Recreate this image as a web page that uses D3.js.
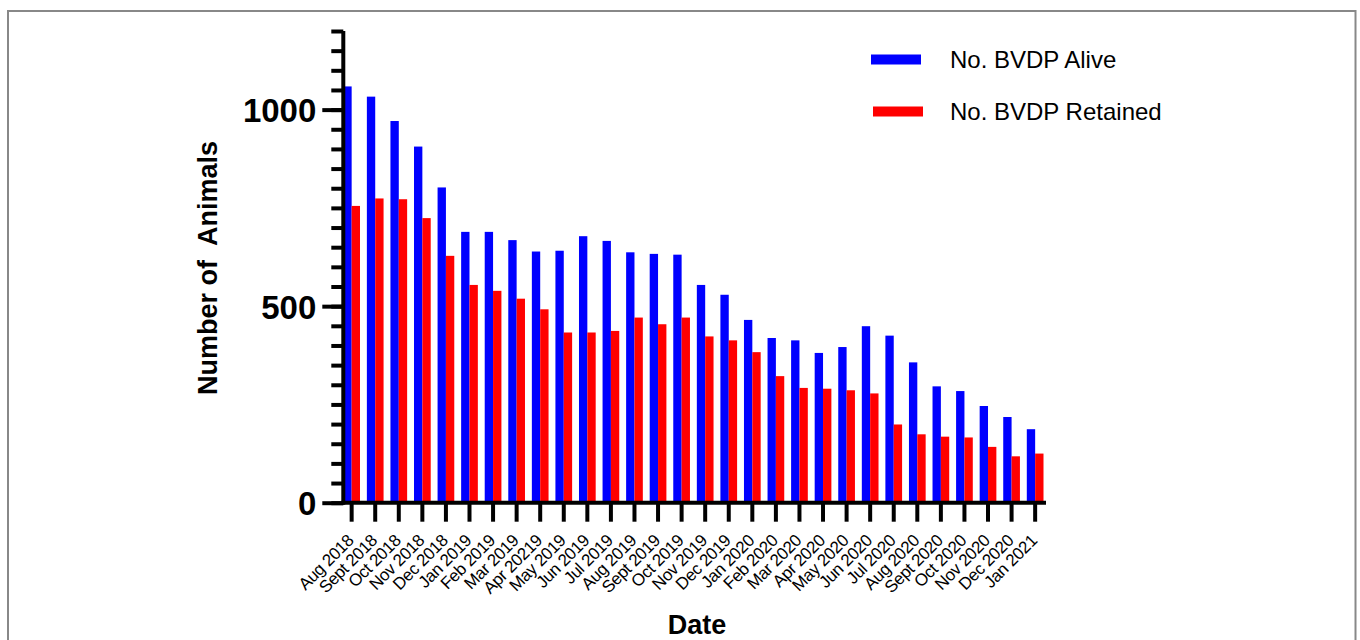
<!DOCTYPE html>
<html>
<head>
<meta charset="utf-8">
<script src="https://cdn.jsdelivr.net/npm/d3@7"></script>
<style>
  html, body { margin: 0; padding: 0; background: #fff; }
  svg { display: block; font-family: "Liberation Sans", Arial, sans-serif; }
</style>
</head>
<body>
<svg id="chart" width="1360" height="640"></svg>
<script>
const categories = ["Aug 2018","Sept 2018","Oct 2018","Nov 2018","Dec 2018","Jan 2019","Feb 2019","Mar 2019","Apr 20219","May 2019","Jun 2019","Jul 2019","Aug 2019","Sept 2019","Oct 2019","Nov 2019","Dec 2019","Jan 2020","Feb 2020","Mar 2020","Apr 2020","May 2020","Jun 2020","Jul 2020","Aug 2020","Sept 2020","Oct 2020","Nov 2020","Dec 2020","Jan 2021"];
const seriesNames = ["No. BVDP Alive", "No. BVDP Retained"];
const alive =    [1059,1033,971,906,802,689,689,668,639,641,678,666,637,633,631,554,529,465,419,413,381,396,449,425,357,296,284,246,218,187];
const retained = [755,774,772,724,628,554,539,519,492,433,433,437,471,454,471,423,413,383,322,292,290,286,278,199,174,168,166,142,118,125];
const yMajorTicks = [0, 500, 1000];
const yMax = 1200;
const yMinorStep = 50;
const colors = ["#0000FF", "#FF0000"];

(function () {
const svg = d3.select("#chart");

// frame
svg.append("rect").attr("x", 8).attr("y", 11).attr("width", 1347.5).attr("height", 640)
  .attr("fill", "none").attr("stroke", "#888").attr("stroke-width", 2);

const pLeft = 343.3, pRight = 1043.5, pBottom = 502.7, pTop = 31;

const x = d3.scaleBand().domain(categories).range([pLeft, pRight]).paddingInner(0.2915).paddingOuter(0);
const xs = d3.scaleBand().domain(seriesNames).range([0, x.bandwidth()]).padding(0);
const y = d3.scaleLinear().domain([0, yMax]).range([pBottom, pTop]);

const data = categories.map((c, i) => ({ cat: c, values: [alive[i], retained[i]] }));

// bars
const g = svg.append("g");
g.selectAll("g.grp").data(data).join("g").attr("class", "grp")
  .attr("transform", d => `translate(${x(d.cat)},0)`)
  .selectAll("rect").data(d => d.values.map((v, j) => ({ v, j })))
  .join("rect")
  .attr("x", d => xs(seriesNames[d.j]))
  .attr("width", xs.bandwidth())
  .attr("y", d => y(d.v))
  .attr("height", d => y(0) - y(d.v))
  .attr("fill", d => colors[d.j]);

// y axis minor ticks
const minorTicks = d3.range(0, yMax + 1, yMinorStep);
const yAxisMinor = d3.axisLeft(y).tickValues(minorTicks).tickSize(12).tickFormat("");
const ym = svg.append("g").attr("transform", `translate(${pLeft},0)`).call(yAxisMinor);
ym.select(".domain").remove();
ym.selectAll(".tick line").attr("stroke", "#000").attr("stroke-width", 4);

const yAxisMajor = d3.axisLeft(y).tickValues(yMajorTicks).tickSize(21).tickPadding(6).tickFormat(d3.format("d"));
const yM = svg.append("g").attr("transform", `translate(${pLeft},0)`).call(yAxisMajor);
yM.select(".domain").remove();
yM.selectAll(".tick line").attr("stroke", "#000").attr("stroke-width", 4);
yM.selectAll(".tick text").attr("font-size", 33).attr("font-weight", "bold")
  .attr("font-family", "Liberation Sans, Arial, sans-serif").attr("fill", "#000").attr("dy", "0.36em");

// y axis line
svg.append("line").attr("x1", pLeft).attr("x2", pLeft).attr("y1", y(yMax)).attr("y2", pBottom + 2)
  .attr("stroke", "#000").attr("stroke-width", 4);

// x axis
const xAxis = d3.axisBottom(x).tickSize(19).tickFormat("");
const xa = svg.append("g").attr("transform", `translate(0,${pBottom})`).call(xAxis);
xa.select(".domain").remove();
xa.selectAll(".tick line").attr("stroke", "#000").attr("stroke-width", 4);
svg.append("line").attr("x1", pLeft - 2).attr("x2", 1046).attr("y1", pBottom).attr("y2", pBottom)
  .attr("stroke", "#000").attr("stroke-width", 4);

// x labels
svg.append("g").selectAll("text").data(categories).join("text")
  .attr("transform", d => `translate(${x(d) + x.bandwidth() / 2 + 3},${pBottom + 39}) rotate(-45)`)
  .attr("text-anchor", "end")
  .attr("font-size", 17)
  .attr("letter-spacing", "-0.4px")
  .attr("fill", "#000")
  .text(d => d);

// axis titles
svg.append("text").attr("x", 697).attr("y", 634).attr("text-anchor", "middle")
  .attr("font-size", 27).attr("font-weight", "bold").text("Date");
svg.append("text").attr("transform", "translate(217,268) rotate(-90)").attr("text-anchor", "middle")
  .attr("font-size", 27).attr("font-weight", "bold").style("white-space", "pre").text("Number of  Animals");

// legend
const lg = svg.append("g").selectAll("g").data(seriesNames).join("g")
  .attr("transform", (d, i) => `translate(0,${i * 52})`);
lg.append("rect").attr("x", (d, i) => 871 + i * 2).attr("y", 54.5).attr("width", 50).attr("height", 10)
  .attr("fill", (d, i) => colors[i]);
lg.append("text").attr("x", 950).attr("y", 68).attr("font-size", 24).attr("fill", "#000").text(d => d);
})();
</script>
</body>
</html>
